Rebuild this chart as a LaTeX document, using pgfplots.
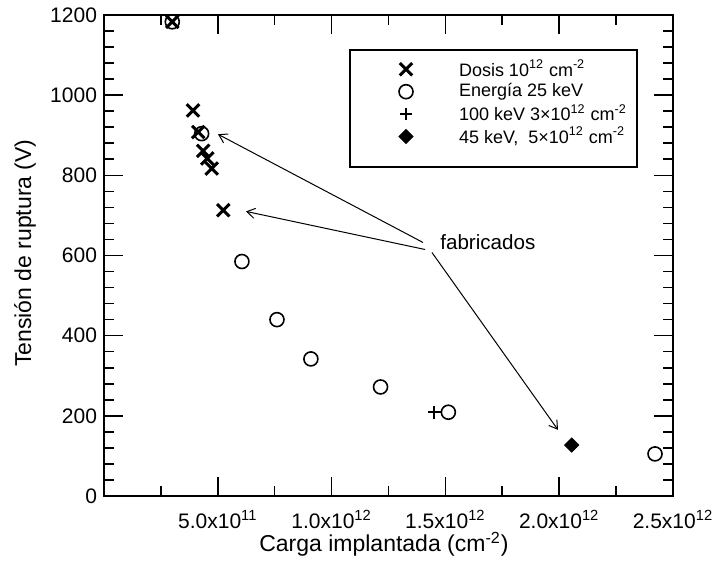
\documentclass[border=0pt]{standalone}
\usepackage{pgfplots}
\pgfplotsset{compat=1.18}
\usepackage{fontspec}
\setmainfont{Liberation Sans}
\usetikzlibrary{arrows.meta}
\pgfplotsset{myleg/.style={legend image code/.code={\path[draw=none,fill=none] (-5bp,-5.6bp) rectangle (26.5bp,5.6bp); \draw[##1] plot coordinates {(0bp,0bp)};}}}
\begin{document}
\begin{tikzpicture}
\begin{axis}[
  at={(0,0)}, anchor=south west,
  scale only axis, width=284.5bp, height=240.5bp,
  xmin=0, xmax=2.5e12, ymin=0, ymax=1200,
  scaled x ticks=false,
  xtick={0,5e11,1e12,1.5e12,2e12,2.5e12},
  xticklabels={,5.0x10\textsuperscript{11},1.0x10\textsuperscript{12},1.5x10\textsuperscript{12},2.0x10\textsuperscript{12},2.5x10\textsuperscript{12}},
  minor x tick num=1,
  ytick={0,200,...,1200},
  minor y tick num=4,
  major tick length=9.5bp, minor tick length=5bp,
  tick align=inside,
  axis line style={line width=1bp},
  every tick/.style={black, line width=0.8bp},
  tick label style={font=\fontsize{10.5bp}{12bp}\selectfont},
  /pgf/number format/assume math mode=true,
  /pgf/number format/1000 sep={},
  xticklabel style={anchor=base, yshift=-16bp},
  xlabel={Carga implantada (cm\textsuperscript{-2})},
  ylabel={Tensión de ruptura (V)},
  label style={font=\fontsize{11.5bp}{13bp}\selectfont},
  xlabel style={at={(axis description cs:0.492,-0.1164)}, anchor=base},
  ylabel style={at={(axis description cs:-0.1388,0.505)}, anchor=center},
  legend style={draw=none, fill=none, at={(0.5132,0.9104)}, anchor=north west,
    inner sep=0pt, outer sep=0pt, row sep=0pt, column sep=0pt,
    font=\fontsize{9bp}{10bp}\selectfont, nodes={inner sep=0pt, anchor=west, draw=none}},
  legend cell align=left,
]
\addplot[only marks, mark=x, mark size=4.4bp, mark options={line width=1.5bp, black}, myleg]
  coordinates {(3.0e11,1183) (3.91e11,962) (4.14e11,908) (4.36e11,861) (4.54e11,842) (4.73e11,817) (5.24e11,713)};
\addlegendentry{Dosis 10\textsuperscript{12} cm\textsuperscript{-2}}
\addplot[only marks, mark=o, mark size=3.5bp, mark options={line width=0.8bp, black}, myleg]
  coordinates {(3.0e11,1183) (4.29e11,904) (6.06e11,585) (7.6e11,440) (9.09e11,342) (1.215e12,272) (1.513e12,209) (2.421e12,105)};
\addlegendentry{Energía 25 keV}
\addplot[only marks, mark=+, mark size=3.2bp, mark options={line width=0.9bp, black}, myleg]
  coordinates {(1.451e12,209)};
\addlegendentry{100 keV 3×10\textsuperscript{12} cm\textsuperscript{-2}}
\addplot[only marks, mark=square*, mark size=2.5bp, mark options={rotate=45, black, fill=black}, myleg]
  coordinates {(2.055e12,127)};
\addlegendentry{45 keV,\ \ 5×10\textsuperscript{12} cm\textsuperscript{-2}}
\draw[line width=0.7bp] (rel axis cs:0.4323,0.9272) rectangle (rel axis cs:0.9367,0.684);
\draw[line width=0.5bp, -{Straight Barb[length=4bp,width=5bp]}] (axis cs:1.4016e12,632.5) -- (axis cs:0.5009e12,902.5);
\draw[line width=0.5bp, -{Straight Barb[length=4bp,width=5bp]}] (axis cs:1.4104e12,615) -- (axis cs:0.6239e12,710);
\draw[line width=0.5bp, -{Straight Barb[length=4bp,width=5bp]}] (axis cs:1.441e12,607.5) -- (axis cs:1.9947e12,165);
\node[anchor=west, inner sep=0pt, font=\fontsize{10.3bp}{12bp}\selectfont] at (axis cs:1.476e12,632.5) {fabricados};
\end{axis}
\pgfresetboundingbox
\path (-52bp,-35bp) rectangle (306bp,248bp);
\end{tikzpicture}
\end{document}
